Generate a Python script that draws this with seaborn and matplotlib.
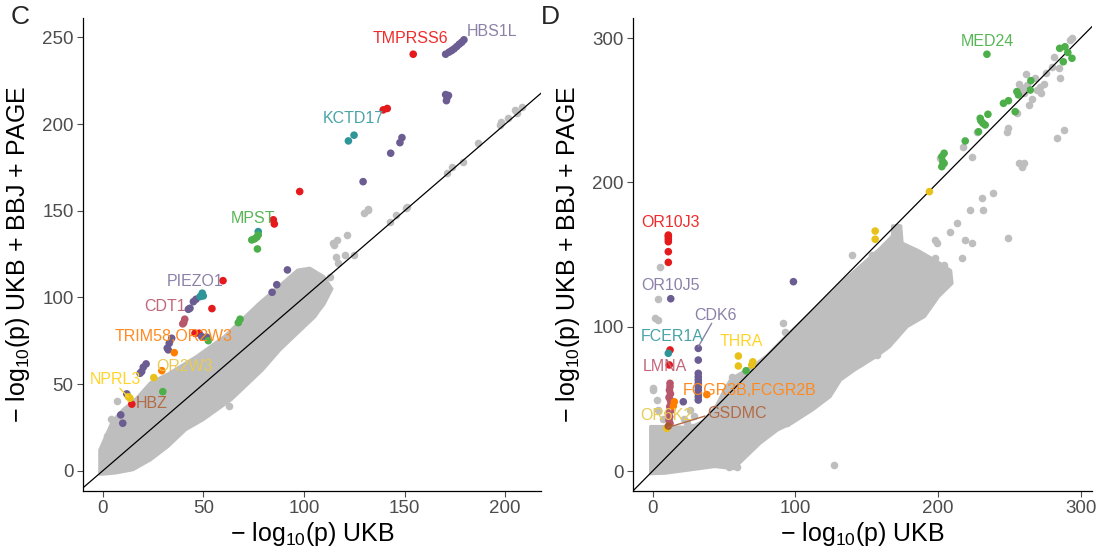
import numpy as np
import pandas as pd
import matplotlib.pyplot as plt
import seaborn as sns

# ---------------- panel C: UKB vs UKB+BBJ+PAGE ----------------
# dense grey cloud, outline
c_cloud_x = [-1.5, -1.5, 4.7, 9.9, 16.9, 23.8, 32.5, 39.5, 46.4, 53.4, 60.4, 67.3, 77.7, 86.4, 96.9,
             103, 110, 114, 110, 107.3, 105.6, 96.9, 88.2, 79.5, 70.8, 63.8, 56.9, 49.9, 41.2,
             32.5, 23.8, 15.1, 6.4, 0]
c_cloud_y = [-2, 12.1, 28.4, 35.2, 42, 51, 56, 61, 65.9, 71.7, 77.5, 85.2, 96.7, 105.4, 115.9,
             117, 112, 105, 96, 91.9, 89, 79.4, 69.8, 58.2, 48.6, 40.9, 35.2, 29.4, 23.6,
             14, 6.3, 0.6, -1.3, -2]
# sparse grey points
c_grey_x = [7.3, 55.5, 62.9, 83, 90.8, 103.8, 116.3, 115, 117.1, 113, 132, 151.1, 170.9, 173.4, 179.2,
            186.6, 197.4, 201.5, 205.7, 208.2, 129.9, 131.6, 145.6, 150.8, 114.3, 121.2, 116, 120.4,
            124.7, 143, 197.8, 204.7, 98, 108, 4, 2]
c_grey_y = [40.5, 38.1, 37.5, 96.7, 105.4, 114, 133.2, 130.3, 119.8, 112, 150.9, 152.4, 171.7, 175.5, 178.4,
            189, 199.5, 203.4, 206.3, 210.1, 148.6, 150.5, 147.6, 151.5, 131.3, 136.1, 123.6, 124.6,
            124.6, 143.8, 201.4, 208.2, 103, 109, 30, 20]
# highlighted points
c_hit_x = [154.3, 139.4, 141.4, 97.9, 84.8, 85.3, 59.8, 54.3, 45.9, 47.9, 14.5,
           170.4, 172.1, 173.4, 174.6, 175.9, 177.2, 178.4, 179.5, 170.4, 171.2, 170.8, 171.8,
           147.7, 148.7, 143.1, 129.4, 91.8, 86.5, 84.2, 46.4, 45.1, 42.6, 43.4, 51.7, 49.2,
           34.3, 33.1, 32.1, 32.6, 21.6, 20.2, 19.4, 18.6, 12, 9, 10,
           122.1, 124.9, 77.3, 49.5, 50, 48.4,
           74.1, 76.6, 77.3, 76.9, 75.5, 68.3, 67.4, 52.5, 29.9,
           40.8, 40.3, 39.8,
           35.6, 29.4,
           25.4, 12.8, 13.6]
c_hit_y = [240.3, 208.2, 209, 161.1, 144.8, 142.4, 109.7, 93.6, 79.4, 79.4, 38.5,
           240.3, 241.5, 242.4, 243.4, 244.7, 246.1, 247.2, 248.6, 217, 215.5, 213.5, 216.5,
           189.3, 192.2, 183.2, 166.8, 115.9, 107.4, 103, 99, 97.6, 93.2, 93.8, 77.1, 77.5,
           76.5, 73.6, 70.8, 69.8, 61.7, 59.8, 57.3, 56.3, 44.4, 32.3, 27.5,
           190.3, 193.6, 138, 102.5, 100.9, 100.5,
           133.2, 134.8, 136.1, 128, 133.8, 87.5, 85.5, 75.1, 45.7,
           87.5, 85.5, 84.8,
           68.2, 57.8,
           53.8, 42.8, 41.9]
c_hit_grp = (['red'] * 11 + ['purple'] * 36 + ['teal'] * 6 + ['green'] * 9
             + ['rose'] * 3 + ['orange'] * 2 + ['yellow'] * 3)
c_lab_text = ['TMPRSS6', 'HBS1L', 'KCTD17', 'MPST', 'PIEZO1', 'CDT1', 'TRIM58,OR2W3', 'OR2W3', 'NPRL3', 'HBZ']
c_lab_x = [152.7, 193.4, 124.5, 74.9, 45.9, 31, 35.1, 40.9, 6.2, 24.4]
c_lab_y = [249.5, 253.4, 203.4, 145.7, 109.2, 94.8, 77.5, 60.2, 52.5, 39]
c_lab_grp = ['red', 'purple', 'teal', 'green', 'purple', 'rose', 'orange', 'yellow', 'yellowb', 'brown']
c_seg = [((8.5, 47.7), (12.8, 42.5), 'yellowb')]

# ---------------- panel D ----------------
d_cloud_x = [-1.5, -1.5, 10, 22, 30, 36, 45, 50, 55, 62, 72, 80, 95, 110, 125, 135, 150, 159, 165, 168,
             168, 174, 175, 186, 200, 209, 210, 200.5, 190.7, 178.5, 166, 156.4, 141.7, 131.8,
             124.5, 112.2, 97.5, 87.7, 75.4, 65.6, 57, 43.5, 26.3, 9]
d_cloud_y = [-2, 31, 31, 30.5, 32, 35, 46, 56, 64, 68, 74, 80, 95, 109, 123, 133, 146, 154, 160, 163,
             170, 170, 158, 153, 145, 139, 130, 120.8, 107, 100, 86, 79, 70, 63,
             51.5, 42.3, 33, 28.4, 19.2, 9.9, 1.5, 3, 0.7, -1.6]
d_grey_x = [5.2, 4, 1.7, 4, 0.5, 91.7, 92.8, 55.7, 126.9, 53.3, 59.4, 281, 284.5, 285.7, 271.7, 269.4,
            258.8, 262.3, 260, 255.3, 263.5, 249, 248.3, 227.3, 217.5, 223.8, 201.5, 256.5, 260,
            258.8, 238.9, 230.8, 231.9, 222.6, 213.3, 208.6, 198, 199.2, 219.1, 223.8, 249.4, 171.2,
            172.3, 171.2, 163, 139.6, 198, 216.8, 283.4, 288, 203.9, 196.8, 177, 157.2, 145.4, 130.2,
            111.6, 94, 292.6, 293.9, 257, 262, 268, 272, 274, 266, 276, 280, 162.4, 154,
            0.5, 2.9, 4, 7, 22, 26, 29, 24]
d_grey_y = [141.6, 119, 105.8, 104.6, 57.3, 102.8, 96.5, 65.3, 4.2, 3, 2.5, 287.1, 279.1, 272.1, 266.3, 264,
            265.2, 267.5, 261.7, 247.9, 253.6, 237.5, 234.7, 235.1, 224.7, 217.8, 216.7, 213.2, 213.2,
            210.9, 192.4, 189, 180.9, 180.9, 171.7, 165.8, 160.1, 157.8, 160.1, 157.8, 161.3, 169.3,
            162.4, 153.2, 155.4, 149.7, 147.4, 147.4, 230.6, 236.3, 142.8, 137, 105.8, 80.4, 74.6, 67.7,
            48, 33, 298.7, 299.9, 268, 275, 272, 262, 268, 258, 276, 280, 155.4, 150,
            56, 49.2, 42, 36, 36, 42, 38, 33]
d_hit_x = [11, 11, 11, 11, 11, 11, 12.2, 11.7,
           12.7, 98.7, 32, 32, 32, 32, 32, 32, 32, 32, 32, 32, 32, 21.5,
           11,
           12.2, 12.2, 11.8, 12.5, 11.5, 12.5, 13, 12, 13.3, 11, 12, 11.5, 12.2,
           15.2, 14.5, 38,
           60.1, 60.1, 70.2, 69.5, 9.9, 194, 156, 156,
           65.5, 234.3, 285.3, 289, 287.8, 293.9, 291, 265.1, 264.7, 255.3, 256.4, 245.9, 249.4, 254.1,
           229.6, 231.5, 233.1, 235, 228.4, 230.1, 219.1, 202.7, 204.3, 203.4, 202.7, 204.3,
           11]
d_hit_y = [163.5, 162.4, 160.6, 158.9, 152, 144.6, 83.9, 73.5,
           119.4, 131.2, 85, 76.9, 67.7, 65.3, 63.1, 60.8, 58.4, 56.1, 53.8, 51.5, 49.2, 48,
           81.6,
           60.8, 58.5, 56, 53.5, 51, 49, 46.9, 44.6, 42.3, 40, 37.6, 35.3, 33,
           48, 45, 53,
           79.7, 72.8, 75.7, 73.5, 29.6, 193.6, 166.3, 160.6,
           69.5, 288.8, 292.9, 294, 283.6, 286, 290, 270.5, 264, 262.9, 260.6, 254.8, 256.6, 249,
           244.4, 241, 239.8, 247.2, 235.1, 242.7, 228.7, 217.8, 220.2, 214.3, 210.9, 213.2,
           31.2]
d_hit_grp = (['red'] * 8 + ['purple'] * 14 + ['teal'] + ['rose'] * 13 + ['orange'] * 3
             + ['yellow'] * 8 + ['green'] * 26 + ['brown'])
d_lab_text = ['MED24', 'OR10J3', 'OR10J5', 'CDK6', 'FCER1A', 'THRA', 'LMNA', 'FCGR3B,FCGR2B', 'OR6K2', 'GSDMC']
d_lab_x = [234.3, 12.2, 12.2, 43.8, 13.4, 62.5, 8.7, 68.3, 9.9, 59]
d_lab_y = [297.5, 172.1, 128.9, 108.1, 93.1, 89.6, 72.3, 56.1, 38.8, 40]
d_lab_grp = ['green', 'red', 'purple', 'purple', 'teal', 'yellowb', 'rose', 'orange', 'yellow', 'brown']
d_seg = [((41.4, 102.4), (32, 86.1), 'purple'), ((36.7, 38.1), (11, 30.3), 'brown')]

GREY = '#BEBEBE'
PT = {'red': '#E41A1C', 'purple': '#6B5C91', 'teal': '#2E9599', 'green': '#4DAF4A', 'orange': '#FF7F00',
      'yellow': '#E8C21A', 'yellowb': '#FFD21A', 'rose': '#B8566C', 'brown': '#A9582F'}
TX = {'red': '#EE2C2C', 'purple': '#8C81A8', 'teal': '#4AA3A6', 'green': '#58B656', 'orange': '#FF8A1F',
      'yellow': '#E8CB55', 'yellowb': '#FFD42A', 'rose': '#C2667A', 'brown': '#B36B46'}

sns.set_theme(style='ticks')
plt.rcParams['font.family'] = ['Liberation Sans', 'DejaVu Sans']
plt.rcParams['mathtext.fontset'] = 'custom'
plt.rcParams['mathtext.rm'] = 'Liberation Sans'
plt.rcParams['mathtext.it'] = 'Liberation Sans:italic'

XLAB = r'$-$ log$_{10}$(p) UKB'
YLAB = r'$-$ log$_{10}$(p) UKB + BBJ + PAGE'


def draw_panel(ax, cloud_x, cloud_y, grey_x, grey_y, hit_x, hit_y, hit_grp,
               lab_text, lab_x, lab_y, lab_grp, segs, xlim, ylim, xticks, yticks):
    ax.fill(cloud_x, cloud_y, color=GREY, lw=2, joinstyle='round', zorder=1)
    sns.scatterplot(x=grey_x, y=grey_y, color=GREY, s=30, linewidth=0, ax=ax, zorder=1)
    ax.plot([-50, 400], [-50, 400], color='black', lw=0.9, zorder=2)
    hits = pd.DataFrame({'x': hit_x, 'y': hit_y, 'grp': hit_grp})
    sns.scatterplot(data=hits, x='x', y='y', hue='grp', palette=PT, s=30, linewidth=0,
                    legend=False, ax=ax, zorder=3)
    for (x0, y0), (x1, y1), g in segs:
        ax.plot([x0, x1], [y0, y1], color=TX[g], lw=1, zorder=3)
    for t, x, y, g in zip(lab_text, lab_x, lab_y, lab_grp):
        ax.text(x, y, t, color=TX[g], fontsize=11.5, ha='center', va='center', zorder=4)
    ax.set_xlim(*xlim)
    ax.set_ylim(*ylim)
    ax.set_xticks(xticks)
    ax.set_yticks(yticks)
    ax.set_xlabel(XLAB, fontsize=18, color='black')
    ax.set_ylabel(YLAB, fontsize=18, color='black')
    ax.yaxis.set_label_coords(-0.113, 0.5)
    ax.xaxis.set_label_coords(0.5, -0.062)
    ax.tick_params(labelsize=13.5, colors='#4D4D4D', length=4, width=0.8, pad=3)
    for s in ['left', 'bottom']:
        ax.spines[s].set_linewidth(0.9)
        ax.spines[s].set_color('black')
    sns.despine(ax=ax)


fig = plt.figure(figsize=(10.99, 5.48), dpi=100)
ax_c = fig.add_axes([0.0758, 0.1046, 0.4165, 0.862])
ax_d = fig.add_axes([0.5763, 0.1046, 0.4174, 0.862])

draw_panel(ax_c, c_cloud_x, c_cloud_y, c_grey_x, c_grey_y, c_hit_x, c_hit_y, c_hit_grp,
           c_lab_text, c_lab_x, c_lab_y, c_lab_grp, c_seg,
           (-9.6, 217.8), (-11.4, 261), [0, 50, 100, 150, 200], [0, 50, 100, 150, 200, 250])
draw_panel(ax_d, d_cloud_x, d_cloud_y, d_grey_x, d_grey_y, d_hit_x, d_hit_y, d_hit_grp,
           d_lab_text, d_lab_x, d_lab_y, d_lab_grp, d_seg,
           (-13.5, 308), (-13.6, 313.7), [0, 100, 200, 300], [0, 100, 200, 300])

fig.text(20 / 1099, 1 - 17.5 / 548, 'C', fontsize=19, ha='center', va='center')
fig.text(550.5 / 1099, 1 - 17.5 / 548, 'D', fontsize=19, ha='center', va='center')

fig.savefig('out.png', dpi=100)
